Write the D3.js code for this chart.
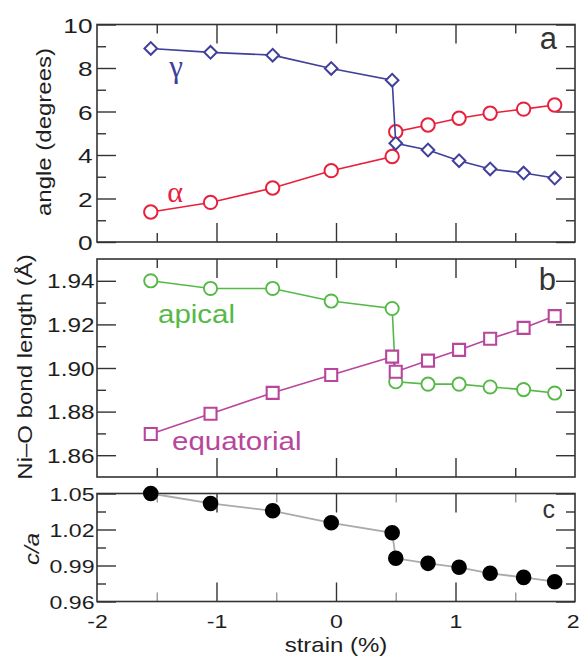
<!DOCTYPE html>
<html><head><meta charset="utf-8">
<script src="https://cdn.jsdelivr.net/npm/d3@7"></script>
<style>body{margin:0;background:#fff}</style>
</head><body>
<script>
// ---------- data ----------
const strain = [-1.55, -1.05, -0.53, -0.04, 0.47, 0.50, 0.77, 1.03, 1.29, 1.57, 1.83];
const gammaAngle = [8.90, 8.72, 8.59, 7.98, 7.44, 4.54, 4.23, 3.74, 3.36, 3.17, 2.94];
const alphaAngle = [1.38, 1.82, 2.48, 3.28, 3.93, 5.07, 5.38, 5.69, 5.92, 6.11, 6.30];
const apical = [1.9400, 1.9365, 1.9365, 1.9307, 1.9273, 1.8937, 1.8926, 1.8926, 1.8913, 1.8901, 1.8885];
const equatorial = [1.8697, 1.8790, 1.8886, 1.8968, 1.9052, 1.8983, 1.9034, 1.9083, 1.9134, 1.9184, 1.9238];
const cOverA = [1.050, 1.0417, 1.0356, 1.0256, 1.0173, 0.9960, 0.9918, 0.9885, 0.9835, 0.9801, 0.9765];

const xMajor = [-1, 0, 1];
const xMinor = [-1.5, -0.5, 0.5, 1.5];
const xLabels = [-2, -1, 0, 1, 2];
const aMajor = [0, 2, 4, 6, 8, 10], aMinor = [1, 3, 5, 7, 9];
const bMajor = [1.86, 1.88, 1.90, 1.92, 1.94], bMinor = [1.87, 1.89, 1.91, 1.93];
const cMajor = [0.96, 0.99, 1.02, 1.05], cMinor = [0.975, 1.005, 1.035];

// ---------- setup ----------
const FONT = "'Liberation Sans', Arial, Helvetica, sans-serif";
const SERIF = "'Liberation Serif', 'Times New Roman', serif";
const C = {blue: "#40409a", red: "#e8203c", green: "#55b947", magenta: "#b8469c", gray: "#aaaaaa", ink: "#333333", text: "#1e1e1e"};
const L = 97, R = 575;
const svg = d3.select("body").append("svg").attr("width", 580).attr("height", 656);
const x = d3.scaleLinear().domain([-2, 2]).range([L, R]);
const yA = d3.scaleLinear().domain([0, 10]).range([242, 24.5]);
const yB = d3.scaleLinear().domain([1.85, 1.95]).range([477, 259]);
const yC = d3.scaleLinear().domain([0.96, 1.05]).range([601.5, 493.5]);

function styleAxis(g) {
  g.attr("font-family", FONT).attr("color", C.ink);
  g.select(".domain").remove();
  g.selectAll(".tick line").attr("stroke-width", 1.4);
}

function frame(y, major, minor, fmt, fsize, labelGap, xlab) {
  const top = y.range()[1], bot = y.range()[0];
  const SX = 1.25;
  // left
  const lm = svg.append("g").attr("transform", `translate(${L},0)`)
    .call(d3.axisLeft(y).tickValues(major).tickSize(-19).tickPadding(labelGap).tickFormat(fmt));
  styleAxis(lm);
  lm.selectAll("text").attr("font-size", fsize).attr("fill", C.text)
    .attr("transform", `scale(${SX},1)`).attr("x", -labelGap / SX).attr("dy", "0.36em");
  svg.append("g").attr("transform", `translate(${L},0)`)
    .call(d3.axisLeft(y).tickValues(minor).tickSize(-9).tickFormat("")).call(styleAxis);
  // right
  svg.append("g").attr("transform", `translate(${R},0)`)
    .call(d3.axisRight(y).tickValues(major).tickSize(-19).tickFormat("")).call(styleAxis);
  svg.append("g").attr("transform", `translate(${R},0)`)
    .call(d3.axisRight(y).tickValues(minor).tickSize(-9).tickFormat("")).call(styleAxis);
  // top
  svg.append("g").attr("transform", `translate(0,${top})`)
    .call(d3.axisTop(x).tickValues(xMajor).tickSize(-19).tickFormat("")).call(styleAxis);
  const tm = svg.append("g").attr("transform", `translate(0,${top})`)
    .call(d3.axisTop(x).tickValues(xMinor).tickSize(-9).tickFormat("")).call(styleAxis);
  // bottom
  svg.append("g").attr("transform", `translate(0,${bot})`)
    .call(d3.axisBottom(x).tickValues(xMajor).tickSize(-19).tickFormat("")).call(styleAxis);
  const bm = svg.append("g").attr("transform", `translate(0,${bot})`)
    .call(d3.axisBottom(x).tickValues(xMinor).tickSize(-9).tickFormat("")).call(styleAxis);
  if (xlab) {
    tm.attr("color", "#999"); bm.attr("color", "#999");
    const xl = svg.append("g").attr("transform", `translate(0,${bot})`)
      .call(d3.axisBottom(x).tickValues(xLabels).tickSize(0).tickPadding(13.4).tickFormat(d => String(d)));
    styleAxis(xl);
    xl.selectAll("text").attr("font-size", 18.5).attr("fill", C.text)
      .attr("transform", `scale(${SX},1)`)
      .filter(d => d === xLabels[xLabels.length - 1])
      .attr("text-anchor", "end").attr("x", 4 / SX);
  }
  // frame
  svg.append("rect").attr("x", L).attr("y", top).attr("width", R - L).attr("height", bot - top)
    .attr("fill", "none").attr("stroke", C.ink).attr("stroke-width", 1.6);
}

function label(str, x0, y0, o) {
  svg.append("text").text(str)
    .attr("transform", `translate(${x0},${y0})` + (o.rot ? ` rotate(${o.rot})` : "") + ` scale(${o.sx || 1},1)`)
    .attr("text-anchor", o.anchor || "start")
    .attr("font-family", o.family || FONT)
    .attr("font-size", o.size)
    .attr("font-style", o.style || "normal")
    .attr("fill", o.fill || C.text);
}

function series(y, vals, color, sym, opts) {
  const pts = strain.map((s, i) => [s, vals[i]]);
  svg.append("path").datum(pts)
    .attr("d", d3.line().x(d => x(d[0])).y(d => y(d[1])))
    .attr("fill", "none").attr("stroke", color).attr("stroke-width", opts.lw || 1.6);
  svg.append("g").selectAll("path").data(pts).join("path")
    .attr("d", d3.symbol(sym, opts.size)())
    .attr("transform", d => `translate(${x(d[0])},${y(d[1])})` + (opts.rot ? ` rotate(${opts.rot})` : ""))
    .attr("fill", opts.fill || "#fff")
    .attr("stroke", opts.stroke || color)
    .attr("stroke-width", opts.sw || 2);
}

// ---------- panel a ----------
frame(yA, aMajor, aMinor, d3.format("d"), 21, 4.5, false);
series(yA, alphaAngle, C.red, d3.symbolCircle, {size: Math.PI * 6.7 * 6.7, sw: 2});
series(yA, gammaAngle, C.blue, d3.symbolSquare, {size: 80, rot: 45, sw: 2});
label("γ", 176, 77, {size: 31, anchor: "middle", family: SERIF, fill: C.blue});
label("α", 175, 201.5, {size: 30, anchor: "middle", family: SERIF, fill: C.red});
label("a", 557, 49.3, {size: 31, anchor: "end", fill: C.ink});

// ---------- panel b ----------
frame(yB, bMajor, bMinor, d3.format(".2f"), 19.5, 2.5, false);
series(yB, apical, C.green, d3.symbolCircle, {size: Math.PI * 6.6 * 6.6, sw: 1.9});
series(yB, equatorial, C.magenta, d3.symbolSquare, {size: 144, sw: 2.1});
label("apical", 158, 323, {size: 25, sx: 1.18, fill: C.green});
label("equatorial", 172, 450, {size: 25, sx: 1.18, fill: C.magenta});
label("b", 556, 290, {size: 31, anchor: "end", fill: C.ink});

// ---------- panel c ----------
frame(yC, cMajor, cMinor, d3.format(".2f"), 18.5, 2.5, true);
series(yC, cOverA, C.gray, d3.symbolCircle, {size: Math.PI * 7.8 * 7.8, fill: "#000", stroke: "none", sw: 0, lw: 1.8});
label("c", 555, 518, {size: 25, anchor: "end", fill: C.ink});

// ---------- axis titles ----------
label("angle (degrees)", 51, 132, {size: 20, sx: 1.2, rot: -90, anchor: "middle"});
label("Ni–O bond length (Å)", 31.5, 367, {size: 20, sx: 1.2, rot: -90, anchor: "middle"});
label("c/a", 39, 549, {size: 20, sx: 1.2, rot: -90, anchor: "middle", style: "italic"});
label("strain (%)", 336, 652, {size: 20, sx: 1.2, anchor: "middle"});
</script>
</body></html>
